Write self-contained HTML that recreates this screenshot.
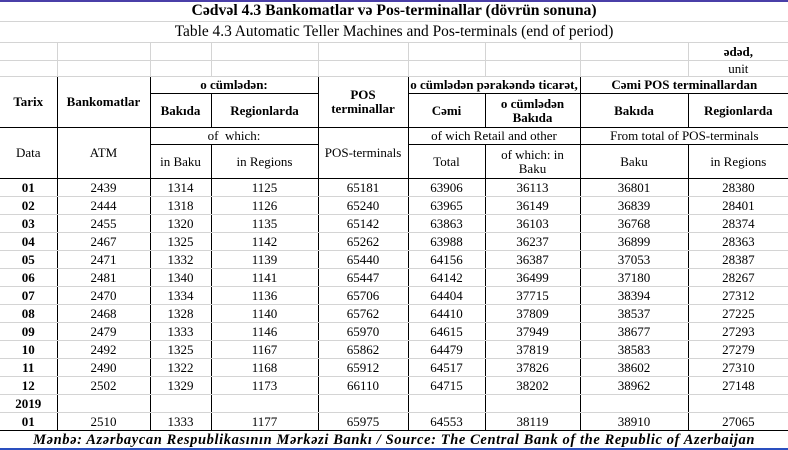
<!DOCTYPE html>
<html><head><meta charset="utf-8"><style>
html,body{margin:0;padding:0;background:#fff;}
body{width:788px;height:450px;overflow:hidden;position:relative;font-family:"Liberation Serif",serif;color:#000;}
table{border-collapse:collapse;table-layout:fixed;width:788px;position:absolute;left:0;top:0;}
td{padding:0;text-align:center;font-size:13px;line-height:14px;overflow:hidden;white-space:nowrap;border:1px solid #d4d4d4;}
.b{font-weight:bold;}
.k{border-color:#000;}
tr.d td{border-left:1px solid #000;border-right:1px solid #000;height:17px;}
tr.d td:first-child{border-left:none;font-weight:bold;}
.topbar{position:absolute;left:0;top:0;width:788px;height:2px;background:#4a3fa8;z-index:2;}
.botbar{position:absolute;left:0;top:448px;width:788px;height:2px;background:#2a4fbf;z-index:2;}
</style></head><body>
<div class="topbar"></div>
<table>
<colgroup><col style="width:57px"><col style="width:93px"><col style="width:61px"><col style="width:107px"><col style="width:90px"><col style="width:77px"><col style="width:95px"><col style="width:108px"><col style="width:100px"></colgroup>
<tr style="height:21px"><td colspan="9" class="b" style="font-size:15.7px;border-left:none;border-right:none">Cədvəl 4.3 Bankomatlar və Pos-terminallar (dövrün sonuna)</td></tr>
<tr style="height:21px"><td colspan="9" style="font-size:15.4px;border-left:none;border-right:none">Table 4.3 Automatic Teller Machines and Pos-terminals (end of period)</td></tr>
<tr style="height:18px"><td style="border-left:none"></td><td></td><td></td><td></td><td></td><td></td><td></td><td></td><td class="b" style="border-right:none">ədəd,</td></tr>
<tr style="height:16px"><td style="border-left:none"></td><td></td><td></td><td></td><td></td><td></td><td></td><td></td><td style="border-right:none">unit</td></tr>
<tr style="height:17px">
<td rowspan="2" class="b k" style="border-left:none">Tarix</td>
<td rowspan="2" class="b k">Bankomatlar</td>
<td colspan="2" class="b k">o cümlədən:</td>
<td rowspan="2" class="b k">POS<br>terminallar</td>
<td colspan="2" class="b k">o cümlədən pərakəndə ticarət,</td>
<td colspan="2" class="b k" style="border-right:none">Cəmi POS terminallardan</td></tr>
<tr style="height:34px">
<td class="b k">Bakıda</td><td class="b k">Regionlarda</td>
<td class="b k">Cəmi</td><td class="b k">o cümlədən<br>Bakıda</td>
<td class="b k">Bakıda</td><td class="b k" style="border-right:none">Regionlarda</td></tr>
<tr style="height:17px">
<td rowspan="2" class="k" style="border-left:none">Data</td>
<td rowspan="2" class="k">ATM</td>
<td colspan="2" class="k">of&nbsp; which:</td>
<td rowspan="2" class="k">POS-terminals</td>
<td colspan="2" class="k">of wich Retail and other</td>
<td colspan="2" class="k" style="border-right:none">From total of POS-terminals</td></tr>
<tr style="height:34px">
<td class="k">in Baku</td><td class="k">in Regions</td>
<td class="k">Total</td><td class="k">of which: in<br>Baku</td>
<td class="k">Baku</td><td class="k" style="border-right:none">in Regions</td></tr>
<tr class="d"><td style="border-top:1px solid #000">01</td><td style="border-top:1px solid #000">2439</td><td style="border-top:1px solid #000">1314</td><td style="border-top:1px solid #000">1125</td><td style="border-top:1px solid #000">65181</td><td style="border-top:1px solid #000">63906</td><td style="border-top:1px solid #000">36113</td><td style="border-top:1px solid #000">36801</td><td style="border-top:1px solid #000;border-right:none">28380</td></tr>
<tr class="d"><td>02</td><td>2444</td><td>1318</td><td>1126</td><td>65240</td><td>63965</td><td>36149</td><td>36839</td><td style="border-right:none">28401</td></tr>
<tr class="d"><td>03</td><td>2455</td><td>1320</td><td>1135</td><td>65142</td><td>63863</td><td>36103</td><td>36768</td><td style="border-right:none">28374</td></tr>
<tr class="d"><td>04</td><td>2467</td><td>1325</td><td>1142</td><td>65262</td><td>63988</td><td>36237</td><td>36899</td><td style="border-right:none">28363</td></tr>
<tr class="d"><td>05</td><td>2471</td><td>1332</td><td>1139</td><td>65440</td><td>64156</td><td>36387</td><td>37053</td><td style="border-right:none">28387</td></tr>
<tr class="d"><td>06</td><td>2481</td><td>1340</td><td>1141</td><td>65447</td><td>64142</td><td>36499</td><td>37180</td><td style="border-right:none">28267</td></tr>
<tr class="d"><td>07</td><td>2470</td><td>1334</td><td>1136</td><td>65706</td><td>64404</td><td>37715</td><td>38394</td><td style="border-right:none">27312</td></tr>
<tr class="d"><td>08</td><td>2468</td><td>1328</td><td>1140</td><td>65762</td><td>64410</td><td>37809</td><td>38537</td><td style="border-right:none">27225</td></tr>
<tr class="d"><td>09</td><td>2479</td><td>1333</td><td>1146</td><td>65970</td><td>64615</td><td>37949</td><td>38677</td><td style="border-right:none">27293</td></tr>
<tr class="d"><td>10</td><td>2492</td><td>1325</td><td>1167</td><td>65862</td><td>64479</td><td>37819</td><td>38583</td><td style="border-right:none">27279</td></tr>
<tr class="d"><td>11</td><td>2490</td><td>1322</td><td>1168</td><td>65912</td><td>64517</td><td>37826</td><td>38602</td><td style="border-right:none">27310</td></tr>
<tr class="d"><td>12</td><td>2502</td><td>1329</td><td>1173</td><td>66110</td><td>64715</td><td>38202</td><td>38962</td><td style="border-right:none">27148</td></tr>
<tr class="d"><td>2019</td><td></td><td></td><td></td><td></td><td></td><td></td><td></td><td style="border-right:none"></td></tr>
<tr class="d"><td style="border-bottom:1px solid #000">01</td><td style="border-bottom:1px solid #000">2510</td><td style="border-bottom:1px solid #000">1333</td><td style="border-bottom:1px solid #000">1177</td><td style="border-bottom:1px solid #000">65975</td><td style="border-bottom:1px solid #000">64553</td><td style="border-bottom:1px solid #000">38119</td><td style="border-bottom:1px solid #000">38910</td><td style="border-bottom:1px solid #000;border-right:none">27065</td></tr>
<tr style="height:18px"><td colspan="9" style="border:none;font-weight:bold;font-style:italic;font-size:14.5px;letter-spacing:0.6px">Mənbə: Azərbaycan Respublikasının Mərkəzi Bankı / Source: The Central Bank of the Republic of Azerbaijan</td></tr>
</table>
<div class="botbar"></div>
</body></html>
